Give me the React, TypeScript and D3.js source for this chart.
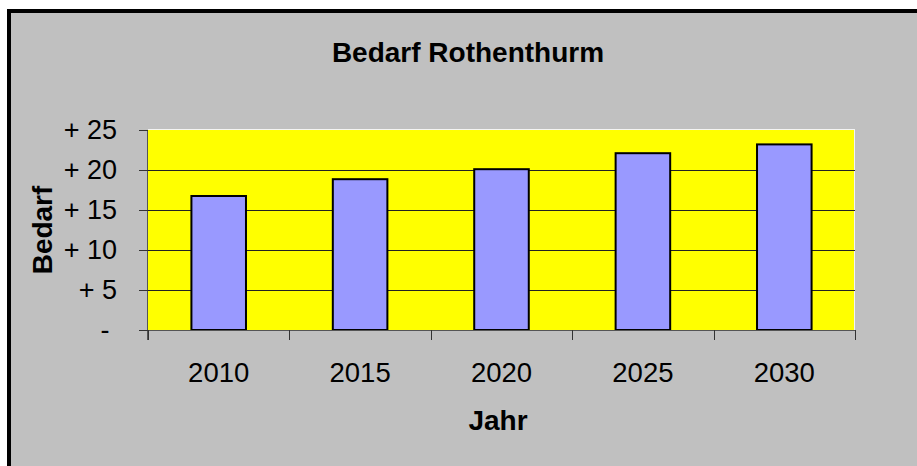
import React from "react";
import * as d3 from "d3";

const years = ["2010", "2015", "2020", "2025", "2030"];
const bedarf = [16.75, 18.85, 20.1, 22.1, 23.2];
const yTicks = [0, 5, 10, 15, 20, 25];
const yTickLabels = ["- ", "+ 5", "+ 10", "+ 15", "+ 20", "+ 25"];
const title = "Bedarf Rothenthurm";
const xTitle = "Jahr";
const yTitle = "Bedarf";

const W = 917;
const H = 466;
const plot = { left: 148, right: 855, top: 130, bottom: 330 };
const font = "'Liberation Sans', Arial, sans-serif";

export default function App() {
  const x = d3
    .scaleBand<string>()
    .domain(years)
    .range([plot.left, plot.right])
    .paddingInner(0.6)
    .paddingOuter(0.3);
  const step = x.step();
  const y = d3.scaleLinear().domain([0, 25]).range([plot.bottom, plot.top]);
  const boundaries = d3.range(years.length + 1).map((i) => plot.left + i * step);

  return (
    <div style={{ position: "fixed", left: 0, top: 0 }}>
      <svg width={W} height={H} style={{ display: "block" }}>
        <rect x={0} y={0} width={W} height={H} fill="#ffffff" />
        <rect x={7} y={9} width={W - 7} height={H - 9} fill="#000000" />
        <rect x={11} y={13} width={W - 11} height={H - 13} fill="#c0c0c0" />
        {/* plot area */}
        <rect
          x={plot.left}
          y={plot.top}
          width={plot.right - plot.left}
          height={plot.bottom - plot.top}
          fill="#ffff00"
        />
        <line x1={plot.left} x2={plot.right} y1={plot.top - 0.5} y2={plot.top - 0.5} stroke="#f4f4f4" strokeWidth={1} />
        <line x1={plot.right - 0.5} x2={plot.right - 0.5} y1={plot.top} y2={plot.bottom} stroke="#f4f4f4" strokeWidth={1} />
        {/* gridlines */}
        {yTicks
          .filter((t) => t > 0 && t < 25)
          .map((t) => (
            <line
              key={"g" + t}
              x1={plot.left}
              x2={plot.right}
              y1={Math.round(y(t)) + 0.5}
              y2={Math.round(y(t)) + 0.5}
              stroke="#222222"
              strokeWidth={1}
            />
          ))}
        {/* bars */}
        {years.map((yr, i) => (
          <rect
            key={yr}
            x={(x(yr) as number) + 1}
            y={y(bedarf[i])}
            width={x.bandwidth() - 2}
            height={plot.bottom - y(bedarf[i])}
            fill="#9999ff"
            stroke="#000000"
            strokeWidth={2}
          />
        ))}
        {/* axes */}
        <line x1={plot.left - 0.5} x2={plot.left - 0.5} y1={plot.top} y2={plot.bottom + 10} stroke="#555555" strokeWidth={1} />
        <line x1={plot.left} x2={plot.right} y1={plot.bottom + 0.5} y2={plot.bottom + 0.5} stroke="#555555" strokeWidth={1} />
        {yTicks.map((t) => (
          <line
            key={"yt" + t}
            x1={plot.left - 9}
            x2={plot.left}
            y1={Math.round(y(t)) + 0.5}
            y2={Math.round(y(t)) + 0.5}
            stroke="#333333"
            strokeWidth={1}
          />
        ))}
        {boundaries.map((bx, i) => (
          <line
            key={"xt" + i}
            x1={Math.round(bx) + 0.5}
            x2={Math.round(bx) + 0.5}
            y1={plot.bottom}
            y2={plot.bottom + 10}
            stroke="#333333"
            strokeWidth={1}
          />
        ))}
        {yTicks.map((t, i) => (
          <text
            key={"yl" + t}
            x={117}
            y={y(t) + 9}
            textAnchor="end"
            fontFamily={font}
            fontSize={27}
            fill="#000000"
            style={{ whiteSpace: "pre" }}
          >
            {yTickLabels[i]}
          </text>
        ))}
        {years.map((yr) => (
          <text
            key={"xl" + yr}
            x={(x(yr) as number) + x.bandwidth() / 2}
            y={382}
            textAnchor="middle"
            fontFamily={font}
            fontSize={27.5}
            fill="#000000"
          >
            {yr}
          </text>
        ))}
        <text x={468} y={62} textAnchor="middle" fontFamily={font} fontSize={28} fontWeight="bold" fill="#000000">
          {title}
        </text>
        <text x={498} y={430} textAnchor="middle" fontFamily={font} fontSize={28} fontWeight="bold" fill="#000000">
          {xTitle}
        </text>
        <text
          transform={`translate(51.5, ${(plot.top + plot.bottom) / 2}) rotate(-90)`}
          textAnchor="middle"
          fontFamily={font}
          fontSize={28}
          fontWeight="bold"
          fill="#000000"
        >
          {yTitle}
        </text>
      </svg>
    </div>
  );
}
